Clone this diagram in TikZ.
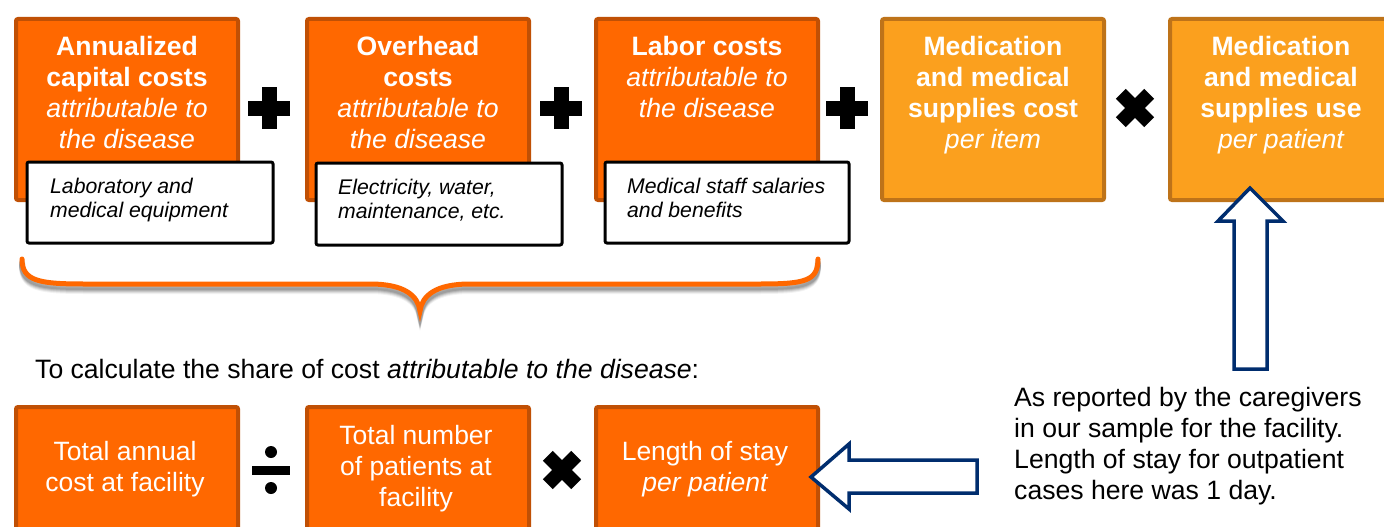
\documentclass[tikz,border=0pt]{standalone}
\usepackage{fontspec}
\setmainfont{Liberation Sans}
\usetikzlibrary{calc}
\definecolor{orangefill}{RGB}{255,104,0}
\definecolor{orangeedge}{RGB}{192,80,5}
\definecolor{lightfill}{RGB}{251,160,30}
\definecolor{lightedge}{RGB}{190,115,25}
\definecolor{navy}{RGB}{0,45,110}
\begin{document}
\begin{tikzpicture}[x=1pt,y=-1pt,
  darkbox/.style={draw=orangeedge, fill=orangefill, line width=4pt, rounded corners=2pt, inner sep=0pt, anchor=north west, minimum width=222pt},
  lightbox/.style={draw=lightedge, fill=lightfill, line width=4pt, rounded corners=2pt, inner sep=0pt, anchor=north west, minimum width=222pt, minimum height=181pt},
  notebox/.style={draw=black, fill=white, line width=3pt, rounded corners=2pt, inner sep=0pt, anchor=north west, minimum height=81pt},
  toptext/.style={text=white, align=center, font=\fontsize{26.6}{31}\selectfont, inner sep=0pt, anchor=north},
  bottext/.style={text=white, align=center, font=\fontsize{26.5}{31}\selectfont, inner sep=0pt, anchor=center},
  notetext/.style={text=black, align=left, font=\fontsize{21.2}{24}\selectfont\itshape, inner sep=0pt, anchor=north west},
  plaintext/.style={text=black, align=left, inner sep=0pt},
  hollow/.style={draw=navy, fill=white, line width=3.5pt, line join=miter},
  plussign/.pic={\fill (-21,-7.5) rectangle (21,7.5); \fill (-7.5,-21) rectangle (7.5,21);},
  timessign/.pic={\begin{scope}[rotate=45]\fill (-20,-7) rectangle (20,7); \fill (-7,-20) rectangle (7,20);\end{scope}},
  dividesign/.pic={\fill (-19,-4.5) rectangle (19,4.5); \fill (0,-18) circle (6); \fill (0,18) circle (6);}
]
\clip (0,0) rectangle (1384,527);
\fill[white] (0,0) rectangle (1384,527);

% top row boxes
\node[darkbox, minimum height=181pt] (b1) at (14,17) {};
\node[darkbox, minimum height=181pt] (b2) at (305,17) {};
\node[darkbox, minimum height=181pt] (b3) at (594,17) {};
\node[lightbox] (b4) at (880,17) {};
\node[lightbox] (b5) at (1168,17) {};

\node[toptext] (t1) at ($(b1.north)+(0,19)$) {\bfseries Annualized\\\bfseries capital costs\\\itshape attributable to\\\itshape the disease};
\node[toptext] (t2) at ($(b2.north)+(0,19)$) {\bfseries Overhead\\\bfseries costs\\\itshape attributable to\\\itshape the disease};
\node[toptext] (t3) at ($(b3.north)+(0,19)$) {\bfseries Labor costs\\\itshape attributable to\\\itshape the disease};
\node[toptext] (t4) at ($(b4.north)+(0,19)$) {\bfseries Medication\\\bfseries and medical\\\bfseries supplies cost\\\itshape per item};
\node[toptext] (t5) at ($(b5.north)+(0,19)$) {\bfseries Medication\\\bfseries and medical\\\bfseries supplies use\\\itshape per patient};

% note boxes
\node[notebox, minimum width=246pt] (n1) at (25.5,160.5) {};
\node[notebox, minimum width=246pt, minimum height=82pt] (n2) at (314.5,161.5) {};
\node[notebox, minimum width=244pt] (n3) at (603.5,160.5) {};
\node[notetext] (nt1) at (50,178) {Laboratory and\\medical equipment};
\node[notetext] (nt2) at (338,179) {Electricity, water,\\maintenance, etc.};
\node[notetext] (nt3) at (627,178) {Medical staff salaries\\and benefits};

% operators
\pic at (269,108) {plussign};
\pic at (561,108) {plussign};
\pic at (847,108) {plussign};
\pic at (1135,108) {timessign};

% brace with shadow
\foreach \o/\op in {7/0.05,6/0.07,5/0.09,4/0.11,3/0.12}{
  \draw[black, opacity=\op, line width=6pt, line cap=round]
    (22,259+\o) .. controls (22,281+\o) and (39,284+\o) .. (84,284+\o)
    -- (370,284+\o) .. controls (405,284+\o) and (418,296+\o) .. (420,311+\o)
    .. controls (422,296+\o) and (435,284+\o) .. (470,284+\o)
    -- (760,284+\o) .. controls (805,284+\o) and (818,281+\o) .. (818,259+\o);
}
\coordinate (brl) at (22,259);
\coordinate (brr) at (818,259);
\coordinate (brtip) at (420,311);
\draw[orangefill, line width=5pt, line cap=round]
  (brl) .. controls (22,281) and (39,284) .. (84,284)
  -- (370,284) .. controls (405,284) and (418,296) .. (brtip)
  .. controls (422,296) and (435,284) .. (470,284)
  -- (760,284) .. controls (805,284) and (818,281) .. (brr);

% caption
\node[plaintext, anchor=base west, font=\fontsize{26.6}{31}\selectfont] (cap) at (35,378) {To calculate the share of cost \textit{attributable to the disease}:};

% bottom row
\node[darkbox, minimum height=130pt] (c1) at (14,405) {};
\node[darkbox, minimum height=130pt] (c2) at (305,405) {};
\node[darkbox, minimum height=130pt] (c3) at (594,405) {};
\node[bottext] (ct1) at (125,469) {Total annual\\cost at facility};
\node[bottext] (ct2) at (416,469) {Total number\\of patients at\\facility};
\node[bottext] (ct3) at (705,469) {Length of stay\\\itshape per patient};

\pic at (271,470) {dividesign};
\pic at (562,470) {timessign};

% note text
\node[plaintext, anchor=north west, font=\fontsize{26.6}{31}\selectfont] (note) at (1014,387) {As reported by the caregivers\\in our sample for the facility.\\Length of stay for outpatient\\cases here was 1 day.};

% hollow arrows
\coordinate (ltip) at ($(c3.east)+(-9,5)$);
\draw[hollow] (ltip) -- ++(38,-33) -- ++(0,16) -- ++(128,0) -- ++(0,33) -- ++(-128,0) -- ++(0,16) -- cycle;
\coordinate (utip) at ($(b5.south)+(-31,-14)$);
\draw[hollow] (utip) -- ++(33,33) -- ++(-16,0) -- ++(0,148) -- ++(-33,0) -- ++(0,-148) -- ++(-16,0) -- cycle;
\end{tikzpicture}
\end{document}
